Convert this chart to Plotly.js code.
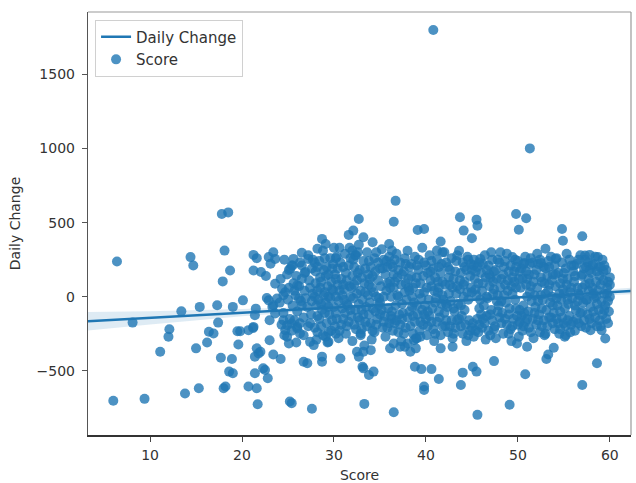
<!DOCTYPE html>
<html>
<head>
<meta charset="utf-8">
<script src="https://cdn.plot.ly/plotly-3.0.1.min.js"></script>
<style>html,body{margin:0;padding:0;background:#fff;}#chart{width:636px;height:483px;}</style>
</head>
<body>
<div id="chart"></div>
<script>
const sparsePoints = [
  [40.8,1801],[51.3,1001],
  [6.4,237],[6.0,-703],[9.4,-690],[8.1,-175],[11.1,-372],[12.1,-220],[12.0,-271],[13.4,-99],
  [13.8,-654],[14.4,267],[14.7,210],[15.0,-349],[15.3,-618],[15.4,-69],[16.2,-309],[16.4,-237],
  [16.9,-249],[17.3,-58],[17.4,-175],[17.7,-412],[17.9,103],[18.1,311],[18.0,-618],[18.7,177],
  [18.9,-421],[18.6,-506],[19.0,-517],[19.0,-69],[19.5,-233],[19.8,-233],[19.6,-323],[20.1,-25],
  [20.7,-226],[21.2,-211],[20.7,-607],[21.7,-726],[21.4,-517],[21.6,-618],[21.25,282],[21.6,260],
  [21.25,177],[21.5,-81],[21.4,-125],[21.6,-349],[21.8,-383],[21.4,-405],[22.0,-372],[22.06,166],
  [22.6,139],[22.5,-495],[22.8,-551],[22.7,-9],[23.0,-294],[23.4,-390],[24.2,-421],[22.9,267],
  [23.1,222],[23.4,300],[23.6,87],[24.35,54],[23.0,-159],[25.2,-708],[25.4,-719],[27.6,-757],
  [26.5,296],[26.7,-439],[27.1,-450],[17.8,558],[18.5,569],[21.25,-204],[22.3,-484],[18.2,-607],
  [24.5,-159],[24.9,-193],[25.4,-181],[26.0,-204],[24.7,-226],[23.3,-69],[22.9,-25],[23.6,-114],
  [23.8,-13],[23.4,-58],[24.5,9],[25.25,188],[25.6,255],[26.0,76],[26.2,-13],
  [28.7,-405],[28.7,-439],[30.7,-417],[24.9,-271],[25.1,-316],[26.0,-215],[26.3,-249],[27.4,-305],
  [27.8,-327],[29.4,-305],[29.1,-271],[32.5,-372],[32.7,-405],[33.1,-473],
  [33.3,-724],[36.5,-780],[45.6,-798],[49.1,-730],[39.8,-607],[39.8,-630],[43.8,-596],[57.0,-596],
  [50.8,-524],[58.6,-450],[47.4,-435],[53.1,-421],[53.3,-390],[53.9,-345],[41.4,-556],[44.0,-513],
  [45.1,-473],[45.5,-506],[38.8,-473],[39.5,-489],[40.6,-489],
  [49.9,-316],[51.0,-338],[59.5,-282],[59.1,-226],[57.9,-226],[55.1,-271],[41.6,-349],[42.9,-338],
  [36.1,-349],[36.5,-316],[37.2,-338],[38.0,-316],[38.3,-372],[38.7,-294],[38.9,-349],[33.2,-372],
  [34.0,-361],[33.2,-484],[33.8,-529],[34.3,-506],[55.2,-260],[32.9,-249],[37.7,-338],[39.0,-282],
  [32.7,524],[32.1,446],[31.6,417],[33.2,401],[28.7,390],[29.1,356],[28.2,323],[30.2,260],
  [32.0,311],[32.3,278],[23.6,255],[25.4,210],[26.5,210],[26.9,166],[27.2,255],
  [36.7,647],[36.5,506],[39.1,450],[39.8,457],[43.7,536],[45.5,520],[45.6,479],[44.1,446],
  [45.0,394],[34.2,367],[36.0,356],[36.3,311],[41.6,372],[41.2,311],[41.8,300],[47.1,300],
  [45.9,255],[45.2,210],
  [49.8,558],[50.9,529],[50.1,452],[54.8,457],[54.9,378],[57.0,408],[53.0,323],[49.4,267],
  [50.7,228],[52.5,228],[54.1,255],[57.3,278],[58.7,267],[57.8,282]
];
const densePoints = [
  [24.2,120],[24.1,-40],[24.3,-190],
  [24.6,250],[24.7,30],[24.5,-110],[24.6,-260],
  [25.1,180],[25.0,-20],[25.2,-150],[25.1,60],
  [25.5,-60],[25.6,90],[25.4,-230],[25.5,210],
  [25.9,140],[26.0,-100],[25.8,10],[25.9,-310],
  [26.3,230],[26.4,-30],[26.2,70],[26.3,-180],
  [26.8,160],[26.7,-140],[26.9,-10],[26.8,40],[26.7,-260],
  [27.2,280],[27.3,110],[27.1,-70],[27.2,-200],
  [27.6,190],[27.7,20],[27.5,-120],[27.6,-30],[27.7,250],
  [28.0,90],[28.1,-60],[27.9,-210],[28.0,170],[28.1,-290],
  [28.4,240],[28.5,130],[28.3,-20],[28.4,-150],[28.5,60],
  [28.8,310],[28.9,180],[28.7,-90],[28.8,-260],[28.9,10],
  [29.2,200],[29.3,70],[29.1,-40],[29.2,-180],[29.3,-310],[29.1,140],
  [29.6,260],[29.7,100],[29.5,-120],[29.6,-10],[29.7,-230],
  [30.0,330],[30.1,150],[29.9,40],[30.0,-70],[30.1,-200],[29.9,220],
  [30.4,190],[30.5,-30],[30.3,-150],[30.4,80],[30.5,-280],[30.3,270],
  [30.8,120],[30.9,-80],[30.7,230],[30.8,-190],[30.9,10],
  [31.2,290],[31.3,160],[31.1,50],[31.2,-110],[31.3,-250],[31.1,-20],
  [31.6,210],[31.7,70],[31.5,-60],[31.6,-170],[31.7,330],
  [32.0,140],[32.1,-10],[31.9,-130],[32.0,-300],[32.1,250],[31.9,60],
  [32.4,280],[32.5,110],[32.3,-90],[32.4,-220],[32.5,20],
  [32.8,180],[32.9,40],[32.7,-50],[32.8,-160],[32.9,-260],[32.7,350],
  [33.2,240],[33.3,90],[33.1,-20],[33.2,-120],[33.3,-330],
  [33.6,300],[33.7,150],[33.5,-70],[33.6,-200],[33.7,10],
  [34.0,200],[34.1,60],[33.9,-40],[34.0,-180],[34.1,-290],[33.9,120],
  [34.4,260],[34.5,-100],[34.3,30],[34.4,-240],[34.5,170],
  [34.8,110],[34.9,-10],[34.7,-150],[34.8,230],[34.9,-60],
  [35.2,320],[35.3,190],[35.1,70],[35.2,-90],[35.3,-210],
  [35.6,150],[35.7,40],[35.5,-130],[35.6,-270],[35.7,240],
  [36.0,270],[36.1,100],[35.9,-80],[36.0,-180],[36.1,60],
  [36.4,200],[36.5,60],[36.3,-100],[36.4,-230],[36.5,150],[36.3,-150],
  [36.8,290],[36.9,130],[36.7,-60],[36.8,-160],[36.9,10],
  [37.2,230],[37.3,80],[37.1,-120],[37.2,-190],[37.3,-300],
  [37.6,170],[37.7,30],[37.5,-110],[37.6,-250],[37.7,260],
  [38.0,310],[38.1,120],[37.9,-20],[38.0,-140],[38.1,60],
  [38.4,220],[38.5,-70],[38.3,-200],[38.4,140],[38.5,0],
  [38.8,270],[38.9,90],[38.7,-40],[38.8,-170],[38.9,-280],
  [39.2,180],[39.3,20],[39.1,-120],[39.2,250],[39.3,-230],
  [39.6,330],[39.7,140],[39.5,-10],[39.6,-90],[39.7,-190],
  [40.0,210],[40.1,60],[39.9,-60],[40.0,-150],[40.1,-260],
  [40.4,280],[40.5,110],[40.3,-20],[40.4,-130],[40.5,170],
  [40.8,190],[40.9,40],[40.7,-80],[40.8,-220],[40.9,-300],
  [41.2,250],[41.3,100],[41.1,-10],[41.2,-170],[41.3,30],
  [41.6,160],[41.7,-50],[41.5,-140],[41.6,-260],[41.7,220],
  [42.0,300],[42.1,80],[41.9,-20],[42.0,-110],[42.1,-200],
  [42.4,200],[42.5,130],[42.3,-70],[42.4,-240],[42.5,20],
  [42.8,260],[42.9,60],[42.7,-30],[42.8,-160],[42.9,-280],
  [43.2,170],[43.3,20],[43.1,-100],[43.2,-210],[43.3,240],
  [43.6,310],[43.7,110],[43.5,-50],[43.6,-150],[43.7,50],
  [44.0,230],[44.1,80],[43.9,-130],[44.0,-250],[44.1,0],
  [44.4,180],[44.5,30],[44.3,-190],[44.4,-300],[44.5,270],
  [44.8,140],[44.9,60],[44.7,-160],[44.8,-230],[44.9,220],
  [45.2,250],[45.3,120],[45.1,-180],[45.2,-270],
  [45.6,200],[45.7,90],[45.5,10],[45.6,-150],[45.7,-240],
  [46.0,160],[46.1,40],[45.9,-20],[46.0,-120],[46.1,-210],
  [46.4,280],[46.5,130],[46.3,-60],[46.4,-180],[46.5,-290],
  [46.8,210],[46.9,70],[46.7,-10],[46.8,-230],[46.9,150],
  [47.2,250],[47.3,100],[47.1,-90],[47.2,-160],[47.3,20],
  [47.6,180],[47.7,-30],[47.5,-200],[47.6,-280],[47.7,120],
  [48.0,230],[48.1,60],[47.9,-60],[48.0,-140],[48.1,300],
  [48.4,150],[48.5,10],[48.3,-110],[48.4,-250],[48.5,200],
  [48.8,290],[48.9,110],[48.7,-40],[48.8,-190],[48.9,40],
  [49.2,210],[49.3,70],[49.1,-80],[49.2,-220],[49.3,-300],
  [49.6,170],[49.7,-20],[49.5,-150],[49.6,100],[49.7,250],
  [50.0,240],[50.1,120],[49.9,-130],[50.0,-190],[50.1,-270],
  [50.4,190],[50.5,120],[50.3,60],[50.4,-130],[50.5,-230],
  [50.8,270],[50.9,80],[50.7,-110],[50.8,-170],[50.9,170],
  [51.2,150],[51.3,30],[51.1,-100],[51.2,-210],[51.3,220],
  [51.6,230],[51.7,100],[51.5,-30],[51.6,-150],[51.7,-280],
  [52.0,180],[52.1,60],[51.9,-70],[52.0,-190],[52.1,290],
  [52.4,250],[52.5,10],[52.3,-120],[52.4,-240],[52.5,130],
  [52.8,200],[52.9,90],[52.7,-20],[52.8,-160],[52.9,-260],
  [53.2,140],[53.3,40],[53.1,-90],[53.2,-200],[53.3,240],
  [53.6,270],[53.7,110],[53.5,-40],[53.6,-140],[53.7,0],
  [54.0,210],[54.1,70],[53.9,-110],[54.0,-220],[54.1,150],
  [54.4,160],[54.5,20],[54.3,-60],[54.4,-180],[54.5,-250],
  [54.8,230],[54.9,120],[54.7,-20],[54.8,-140],[54.9,50],
  [55.2,190],[55.3,80],[55.1,-80],[55.2,-200],[55.3,290],
  [55.6,250],[55.7,30],[55.5,-50],[55.6,-130],[55.7,-240],
  [56.0,170],[56.1,100],[55.9,-10],[56.0,-170],[56.1,210],
  [56.4,220],[56.5,60],[56.3,-90],[56.4,-150],[56.5,-30],
  [56.8,280],[56.9,140],[56.7,10],[56.8,-110],[56.9,-200],
  [57.2,190],[57.3,80],[57.1,-40],[57.2,-160],[57.3,250],
  [57.6,230],[57.7,120],[57.5,-20],[57.6,-120],[57.7,40],
  [58.0,160],[58.1,60],[57.9,-70],[58.0,-180],[58.1,210],
  [58.4,270],[58.5,100],[58.3,-10],[58.4,-140],[58.5,0],
  [58.8,200],[58.9,140],[58.7,40],[58.8,-90],[58.9,-160],
  [59.2,250],[59.3,110],[59.1,-30],[59.2,-120],[59.3,170],
  [59.6,180],[59.7,60],[59.5,-60],[59.6,-150],[59.7,20],
  [60.0,130],[60.0,0],[59.9,-100],[60.0,80]
];
const densePointsFill = [
  [24.9,150],[25.7,-160],[25.7,40],[26.5,-60],[26.5,120],[27.4,60],[27.4,-180],[27.9,0],[27.9,230],
  [28.2,200],[28.2,40],[28.2,-130],[28.2,-240],[28.6,-50],[28.6,100],[28.6,-200],
  [29.0,260],[29.0,-110],[29.0,30],[29.4,150],[29.4,-70],[29.4,-240],[29.4,0],
  [29.8,50],[29.8,-160],[29.8,190],[30.2,120],[30.2,-110],[30.2,-250],[30.2,0],
  [30.6,330],[30.6,40],[30.6,-230],[31.0,200],[31.0,-150],[31.0,80],
  [31.4,110],[31.4,-50],[31.4,-200],[31.8,260],[31.8,0],[31.8,-90],
  [32.2,200],[32.2,80],[32.2,-190],[32.6,-140],[32.6,160],[32.6,300],
  [33.0,130],[33.0,-90],[33.0,-220],[33.4,30],[33.4,190],[33.4,-170],
  [33.8,240],[33.8,-120],[33.8,80],[34.2,140],[34.2,-80],[34.2,-230],
  [34.6,300],[34.6,0],[34.6,-190],[35.0,190],[35.0,-40],[35.0,-120],
  [35.4,250],[35.4,0],[35.4,-170],[35.8,200],[35.8,-210],[35.8,90],
  [36.2,220],[36.2,0],[36.2,-130],[36.6,100],[36.6,-180],[36.6,250],
  [37.0,180],[37.0,0],[37.0,-240],[37.4,150],[37.4,-50],[37.4,-150],
  [37.8,220],[37.8,90],[37.8,-210],[38.2,200],[38.2,40],[38.2,-100],
  [38.6,60],[38.6,-130],[38.6,-250],[39.0,130],[39.0,-60],[39.0,210],
  [39.4,90],[39.4,-170],[39.4,-270],[39.8,230],[39.8,30],[39.8,-120],
  [40.2,160],[40.2,-100],[40.2,-200],[40.6,240],[40.6,70],[40.6,-170],
  [41.0,130],[41.0,-40],[41.0,-250],[41.4,200],[41.4,60],[41.4,-100],
  [41.8,100],[41.8,-200],[41.8,10],[42.2,230],[42.2,-160],[42.2,-50],
  [42.6,180],[42.6,80],[42.6,-200],[43.0,120],[43.0,-80],[43.0,-250],
  [43.4,280],[43.4,70],[43.4,-160],[43.8,160],[43.8,-60],[43.8,-200],
  [44.2,100],[44.2,-90],[44.2,200],[44.6,250],[44.6,-20],[44.6,-260],
  [45.0,180],[45.0,30],[45.0,-210],[45.4,170],[45.4,50],[45.4,-230],
  [45.8,230],[45.8,-80],[45.8,-190],[46.2,90],[46.2,-150],[46.2,220],
  [46.6,180],[46.6,0],[46.6,-130],[47.0,130],[47.0,-120],[47.0,-260],
  [47.4,170],[47.4,50],[47.4,-220],[47.8,250],[47.8,-100],[47.8,10],
  [48.2,120],[48.2,-30],[48.2,-180],[48.6,240],[48.6,80],[48.6,-150],
  [49.0,170],[49.0,-120],[49.0,-250],[49.4,130],[49.4,20],[49.4,-200],
  [49.8,200],[49.8,-80],[49.8,60],[50.2,170],[50.2,-170],[50.2,-90],
  [50.6,220],[50.6,-60],[50.6,-200],[51.0,120],[51.0,0],[51.0,-150],
  [51.4,260],[51.4,70],[51.4,-240],[51.8,150],[51.8,-110],[51.8,10],
  [52.2,220],[52.2,-30],[52.2,-160],[52.6,100],[52.6,-80],[52.6,-200],
  [53.0,190],[53.0,20],[53.0,-250],[53.4,200],[53.4,-140],[53.4,80],
  [53.8,150],[53.8,-60],[53.8,-180],[54.2,260],[54.2,-10],[54.2,-150],
  [54.6,90],[54.6,-100],[54.6,-220],[55.0,160],[55.0,20],[55.0,-180],
  [55.4,120],[55.4,-160],[55.4,-20],[55.8,210],[55.8,60],[55.8,-190],
  [56.2,140],[56.2,-60],[56.2,-230],[56.6,250],[56.6,20],[56.6,-180],
  [57.0,150],[57.0,-100],[57.0,60],[57.4,200],[57.4,-20],[57.4,-210],
  [57.8,90],[57.8,-150],[57.8,180],[58.2,220],[58.2,20],[58.2,-100],
  [58.6,170],[58.6,-50],[58.6,-200],[59.0,80],[59.0,-200],[59.0,200],
  [59.4,210],[59.4,20],[59.4,-90],[59.8,100],[59.8,-30],[59.8,-180]
];
const observations = sparsePoints.concat(densePoints, densePointsFill);
const score = observations.map(p => p[0]);
const dailyChange = observations.map(p => p[1]);

// Regression line and confidence band
const fitScore = [3.25, 10, 20, 30, 40, 50, 62.3];
const fitChange = [-166, -143, -108, -74, -39, -5, 38];
const fitLower = [-228, -188, -133, -84, -47, -17, 16];
const fitUpper = [-104, -98, -83, -64, -31, 7, 60];

const xTicks = [10, 20, 30, 40, 50, 60];
const yTicks = [-500, 0, 500, 1000, 1500];

const blue = '#1f77b4';
const font = 'DejaVu Sans, sans-serif';

const traces = [
  {
    x: fitScore.concat(fitScore.slice().reverse()),
    y: fitUpper.concat(fitLower.slice().reverse()),
    type: 'scatter', mode: 'lines', fill: 'toself',
    fillcolor: 'rgba(31,119,180,0.15)', line: {width: 0},
    hoverinfo: 'skip', showlegend: false
  },
  {
    x: score, y: dailyChange, type: 'scatter', mode: 'markers', name: 'Score',
    marker: {color: blue, size: 10, opacity: 0.8, line: {width: 0}},
    legendrank: 2
  },
  {
    x: fitScore, y: fitChange, type: 'scatter', mode: 'lines', name: 'Daily Change',
    line: {color: blue, width: 2.5}, legendrank: 1
  }
];

const layout = {
  width: 636, height: 483,
  margin: {l: 88, r: 5, t: 12, b: 48},
  paper_bgcolor: '#fff', plot_bgcolor: '#fff',
  font: {family: font, size: 14, color: '#333'},
  showlegend: true,
  legend: {
    x: 0.013, y: 0.982, xanchor: 'left', yanchor: 'top',
    bgcolor: 'rgba(255,255,255,0.9)', bordercolor: '#d0d0d0', borderwidth: 1,
    font: {family: font, size: 15, color: '#333'}
  },
  xaxis: {
    range: [3.25, 62.3], tickvals: xTicks, ticktext: xTicks.map(String),
    showgrid: false, zeroline: false, showline: true, mirror: false,
    linecolor: '#333', linewidth: 1.5, ticks: 'outside', ticklen: 5, tickcolor: '#444',
    ticklabelstandoff: 2,
    tickfont: {family: font, size: 14, color: '#333'},
    title: {text: 'Score', font: {family: font, size: 14, color: '#333'}, standoff: 8}
  },
  yaxis: {
    range: [-934, 1922], tickvals: yTicks,
    showgrid: false, zeroline: false, showline: true, mirror: false,
    linecolor: '#555', linewidth: 1.2, ticks: 'outside', ticklen: 5, tickcolor: '#555',
    ticklabelstandoff: 4,
    tickfont: {family: font, size: 14, color: '#333'},
    title: {text: 'Daily Change', font: {family: font, size: 14, color: '#333'}, standoff: 12}
  },
  shapes: [
    {type: 'line', xref: 'paper', yref: 'paper', x0: 0, x1: 1, y0: 1, y1: 1, line: {color: '#9a9a9a', width: 1.2}},
    {type: 'line', xref: 'paper', yref: 'paper', x0: 1, x1: 1, y0: 0, y1: 1, line: {color: '#9a9a9a', width: 1.2}}
  ]
};

Plotly.newPlot('chart', traces, layout, {displayModeBar: false, staticPlot: true});
</script>
</body>
</html>
